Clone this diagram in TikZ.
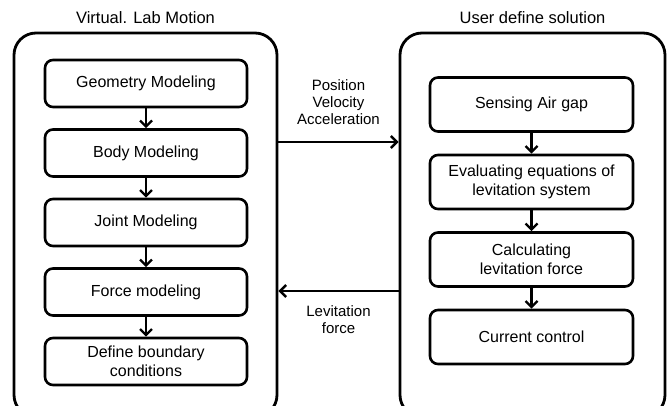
\documentclass[tikz,border=0pt]{standalone}
\usepackage{fontspec}
\setmainfont{Liberation Sans}
\usetikzlibrary{arrows.meta, positioning}
\tikzset{>={Straight Barb[length=6pt,width=12pt]},
    font=\fontsize{16}{19.5}\selectfont,
    frame/.style={draw, rounded corners=22pt, line width=2.8pt,
        minimum width=#1, minimum height=384pt},
    stage/.style={draw, rounded corners=8pt, line width=2.6pt, align=center,
        minimum width=202pt, minimum height=47pt},
    stagetall/.style={stage, minimum width=203pt, minimum height=54pt},
    flow/.style={->, line width=2.4pt},
    title/.style={font=\fontsize{16.5}{19}\selectfont},
    signal/.style={align=center, font=\fontsize{15}{17}\selectfont}}

\begin{document}
\begin{tikzpicture}[x=1pt, y=-1pt]
\useasboundingbox (0,0) rectangle (669,406);
\clip (0,0) rectangle (669,406);

% the two frames
\node[frame=263pt] (lab)  at (145.5,225) {};
\node[frame=265pt] (user) at (532.5,225) {};
\node[title, above=4.5pt of lab]  (labtitle)  {Virtual. Lab Motion};
\node[title, above=4.5pt of user] (usertitle) {User define  solution};

% virtual lab steps
\node[stage] (geom)  at (146,83.5)                  {Geometry Modeling};
\node[stage] (body)  [below of=geom, node distance=69.5pt]  {Body Modeling};
\node[stage] (joint) [below of=body, node distance=69.5pt]  {Joint Modeling};
\node[stage] (force) [below of=joint, node distance=69.5pt] {Force modeling};
\node[stage] (bound) [below of=force, node distance=69.5pt] {Define boundary\\conditions};

% user solution steps
\node[stagetall] (sense) at (531.5,104.5)                   {Sensing Air gap};
\node[stagetall] (eval)  [below of=sense, node distance=77.5pt] {Evaluating equations of\\levitation system};
\node[stagetall] (calc)  [below of=eval, node distance=77.5pt]  {Calculating\\levitation force};
\node[stagetall] (curr)  [below of=calc, node distance=77.5pt]  {Current control};

\path[flow]
    (geom)  edge (body)
    (body)  edge (joint)
    (joint) edge (force)
    (force) edge (bound)
    (sense) edge (eval)
    (eval)  edge (calc)
    (calc)  edge (curr);

% exchange between the frames
\coordinate (pvout)  at ([yshift=83pt]lab.east);
\coordinate (levin)  at ([yshift=-66pt]user.west);
\draw[flow] (pvout) -- node[signal, above=12.5pt] {Position\\Velocity\\Acceleration} (pvout -| user.west);
\draw[flow] (levin) -- node[signal, below=10.5pt] {Levitation\\force} (levin -| lab.east);
\end{tikzpicture}
\end{document}
